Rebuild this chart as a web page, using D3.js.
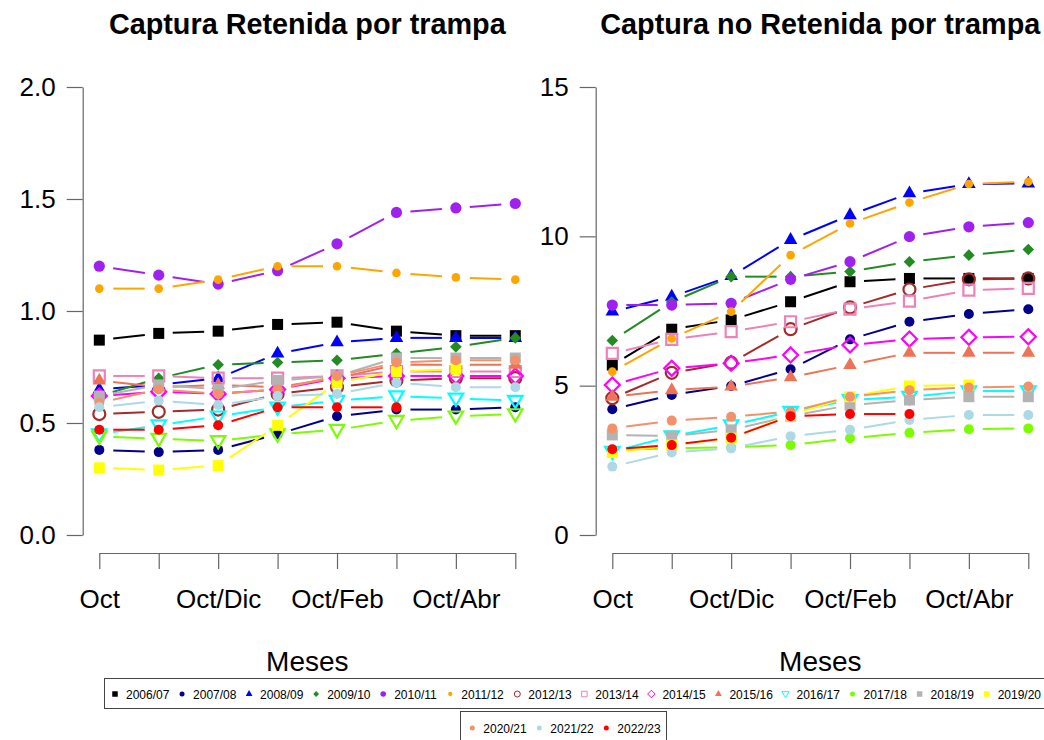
<!DOCTYPE html>
<html>
<head>
<meta charset="utf-8">
<script src="https://cdn.jsdelivr.net/npm/d3@7"></script>
<style>
  body { margin: 0; background: #fff; }
  svg { display: block; font-family: "Liberation Sans", Arial, sans-serif; }
</style>
</head>
<body>
<svg id="chart" width="1044" height="740"></svg>
<script>
// seasons (one line per season)
const seasons = ["2006/07", "2007/08", "2008/09", "2009/10", "2010/11", "2011/12", "2012/13",
  "2013/14", "2014/15", "2015/16", "2016/17", "2017/18", "2018/19", "2019/20",
  "2020/21", "2021/22", "2022/23"];

// cumulative months (R drops every other label because they overlap)
const monthLabels = ["Oct", "Oct/Nov", "Oct/Dic", "Oct/Ene", "Oct/Feb", "Oct/Mar", "Oct/Abr", "Oct/May"];

const colors = ["#000000", "#00008B", "#0000FF", "#228B22", "#A020F0", "#FFA500", "#A52A2A",
  "#EE82B8", "#FF00FF", "#EE7255", "#00FFFF", "#7CFC00", "#B3B3B3", "#FFFF00",
  "#F2916A", "#ADD8E6", "#FF0000"];

const shapesRet = ["square", "circle", "triangle", "diamond", "bigcircle", "smallcircle", "ocircle",
  "osquare", "odiamond", "triangle", "dtri", "dtri", "square", "square",
  "circle", "circle", "circle"];
const shapesNoRet = ["square", "circle", "triangle", "diamond", "bigcircle", "smallcircle", "ocircle",
  "osquare", "odiamond", "triangle", "dtri", "circle", "square", "square",
  "circle", "circle", "circle"];

// Captura Retenida por trampa
const retenida = [
  [0.87, 0.90, 0.91, 0.94, 0.95, 0.91, 0.89, 0.89],
  [0.38, 0.37, 0.38, 0.45, 0.53, 0.56, 0.56, 0.57],
  [0.65, 0.67, 0.70, 0.81, 0.86, 0.88, 0.88, 0.88],
  [0.62, 0.70, 0.76, 0.77, 0.78, 0.81, 0.84, 0.88],
  [1.20, 1.16, 1.12, 1.18, 1.30, 1.44, 1.46, 1.48],
  [1.10, 1.10, 1.14, 1.20, 1.20, 1.17, 1.15, 1.14],
  [0.54, 0.55, 0.56, 0.63, 0.66, 0.69, 0.70, 0.70],
  [0.71, 0.71, 0.70, 0.70, 0.71, 0.73, 0.73, 0.73],
  [0.62, 0.64, 0.63, 0.65, 0.70, 0.71, 0.71, 0.71],
  [0.69, 0.66, 0.67, 0.66, 0.70, 0.76, 0.76, 0.76],
  [0.45, 0.49, 0.53, 0.57, 0.60, 0.62, 0.61, 0.60],
  [0.44, 0.43, 0.42, 0.45, 0.47, 0.51, 0.53, 0.54],
  [0.62, 0.67, 0.65, 0.69, 0.71, 0.79, 0.79, 0.79],
  [0.30, 0.29, 0.31, 0.49, 0.68, 0.73, 0.74],
  [0.59, 0.65, 0.63, 0.65, 0.71, 0.77, 0.78, 0.78],
  [0.57, 0.60, 0.58, 0.62, 0.63, 0.68, 0.66, 0.66],
  [0.47, 0.47, 0.49, 0.57, 0.57, 0.57]
];

// Captura no Retenida por trampa
const noRetenida = [
  [5.69, 6.89, 7.20, 7.81, 8.48, 8.59, 8.59, 8.59],
  [4.21, 4.69, 4.99, 5.55, 6.55, 7.14, 7.40, 7.56],
  [7.48, 7.98, 8.67, 9.88, 10.71, 11.44, 11.75, 11.77],
  [6.51, 7.80, 8.65, 8.65, 8.82, 9.15, 9.37, 9.56],
  [7.70, 7.70, 7.76, 8.56, 9.15, 9.99, 10.32, 10.46],
  [5.47, 6.58, 7.48, 9.37, 10.43, 11.13, 11.75, 11.83],
  [4.58, 5.43, 5.77, 6.89, 7.62, 8.22, 8.56, 8.59],
  [6.08, 6.55, 6.81, 7.14, 7.56, 7.83, 8.20, 8.26],
  [5.02, 5.58, 5.75, 6.03, 6.36, 6.56, 6.62, 6.64],
  [4.63, 4.85, 4.97, 5.28, 5.69, 6.10, 6.10, 6.10],
  [2.79, 3.31, 3.68, 4.13, 4.52, 4.63, 4.82, 4.82],
  [2.85, 2.90, 2.94, 3.01, 3.24, 3.42, 3.54, 3.57],
  [3.35, 3.31, 3.52, 3.98, 4.35, 4.52, 4.63, 4.63],
  [2.76, 3.01, 3.24, 4.02, 4.63, 4.99, 5.02],
  [3.57, 3.83, 3.96, 4.13, 4.63, 4.85, 4.94, 4.97],
  [2.29, 2.76, 2.90, 3.31, 3.52, 3.85, 4.02, 4.02],
  [2.87, 3.01, 3.26, 3.98, 4.05, 4.05]
];

const yTicksRet = [0, 0.5, 1.0, 1.5, 2.0];
const yTicksNoRet = [0, 5, 10, 15];

const svg = d3.select("#chart");

// R-like plotting symbols
function symbolPath(shape, k = 1) {
  const p = d3.path();
  const poly = pts => {
    p.moveTo(pts[0][0] * k, pts[0][1] * k);
    pts.slice(1).forEach(q => p.lineTo(q[0] * k, q[1] * k));
    p.closePath();
  };
  const circ = r => { p.moveTo(r * k, 0); p.arc(0, 0, r * k, 0, 2 * Math.PI); };
  switch (shape) {
    case "square": case "osquare": poly([[-5.5, -5.5], [5.5, -5.5], [5.5, 5.5], [-5.5, 5.5]]); break;
    case "circle": circ(5); break;
    case "bigcircle": circ(5.6); break;
    case "smallcircle": circ(4.3); break;
    case "ocircle": circ(6); break;
    case "triangle": poly([[0, -7.8], [6.8, 4], [-6.8, 4]]); break;
    case "diamond": poly([[0, -5.8], [5.8, 0], [0, 5.8], [-5.8, 0]]); break;
    case "odiamond": poly([[0, -7.5], [7.5, 0], [0, 7.5], [-7.5, 0]]); break;
    case "dtri": poly([[0, 7.5], [7.2, -4.8], [-7.2, -4.8]]); break;
  }
  return p.toString();
}
const isOpen = s => s.startsWith("o") || s === "dtri";

function panel(cfg) {
  const x = d3.scaleLinear().domain([1, 8]).range(cfg.xRange);
  const y = d3.scaleLinear().domain(cfg.yDomain).range([535, 87]);
  const g = svg.append("g");

  // y axis
  const ya = g.append("g")
    .attr("transform", `translate(${cfg.xRange[0] - 16.6},0)`)
    .call(d3.axisLeft(y).tickValues(cfg.yTicks).tickFormat(cfg.fmt)
      .tickSize(16).tickSizeOuter(0).tickPadding(11));
  // x axis
  const xa = g.append("g")
    .attr("transform", "translate(0,553)")
    .call(d3.axisBottom(x).tickValues(d3.range(1, 9))
      .tickFormat((d, i) => i % 2 === 0 ? monthLabels[i] : "")
      .tickSize(16).tickSizeOuter(0).tickPadding(21));
  [ya, xa].forEach(a => {
    a.selectAll("path,line").attr("stroke", "#666").attr("stroke-width", 1.2);
    a.selectAll("text").attr("font-size", 26).attr("fill", "#000")
      .attr("font-family", "'Liberation Sans', Arial, sans-serif");
  });

  const cx = (cfg.xRange[0] + cfg.xRange[1]) / 2;
  g.append("text").attr("x", cx).attr("y", 34).attr("text-anchor", "middle")
    .attr("font-size", 28.8).attr("font-weight", "bold").text(cfg.title);
  g.append("text").attr("x", cx).attr("y", 671).attr("text-anchor", "middle")
    .attr("font-size", 28).text("Meses");

  const gap = 14;
  cfg.data.forEach((vals, si) => {
    const pts = vals.map((v, i) => [x(i + 1), y(v)]);
    const sg = g.append("g");
    for (let i = 0; i < pts.length - 1; i++) {
      const [x0, y0] = pts[i], [x1, y1] = pts[i + 1];
      const len = Math.hypot(x1 - x0, y1 - y0);
      if (len <= 2 * gap) continue;
      const ux = (x1 - x0) / len, uy = (y1 - y0) / len;
      sg.append("line")
        .attr("x1", x0 + ux * gap).attr("y1", y0 + uy * gap)
        .attr("x2", x1 - ux * gap).attr("y2", y1 - uy * gap)
        .attr("stroke", colors[si]).attr("stroke-width", 2);
    }
    const shape = cfg.shapes[si];
    sg.selectAll("path.pt").data(pts).join("path")
      .attr("class", "pt")
      .attr("transform", d => `translate(${d[0]},${d[1]})`)
      .attr("d", symbolPath(shape))
      .attr("fill", isOpen(shape) ? "none" : colors[si])
      .attr("stroke", isOpen(shape) ? colors[si] : "none")
      .attr("stroke-width", 2.2);
  });
}

panel({ title: "Captura Retenida por trampa", data: retenida, shapes: shapesRet,
  xRange: [99.3, 515.3], yDomain: [0, 2], yTicks: yTicksRet, fmt: d3.format(".1f") });
panel({ title: "Captura no Retenida por trampa", data: noRetenida, shapes: shapesNoRet,
  xRange: [612.3, 1028.3], yDomain: [0, 15], yTicks: yTicksNoRet, fmt: d3.format("d") });

// legend (two boxes, as R wrapped it)
const lg = svg.append("g").attr("font-size", 12);
lg.append("rect").attr("x", 104.5).attr("y", 678.5).attr("width", 960).attr("height", 30)
  .attr("fill", "#fff").attr("stroke", "#444");
lg.append("rect").attr("x", 460.5).attr("y", 711.5).attr("width", 206).attr("height", 40)
  .attr("fill", "#fff").attr("stroke", "#444");
seasons.forEach((s, i) => {
  const row = i < 14 ? 0 : 1;
  const sx = row === 0 ? 115 + i * 67.05 : 472.3 + (i - 14) * 67;
  const sy = row === 0 ? 694 : 728;
  const shape = shapesNoRet[i];
  lg.append("path")
    .attr("transform", `translate(${sx},${sy})`)
    .attr("d", symbolPath(shape, 0.5))
    .attr("fill", isOpen(shape) ? "none" : colors[i])
    .attr("stroke", isOpen(shape) ? colors[i] : "none")
    .attr("stroke-width", 1);
  lg.append("text").attr("x", sx + 11).attr("y", sy + 4.5).text(s);
});
</script>
</body>
</html>
